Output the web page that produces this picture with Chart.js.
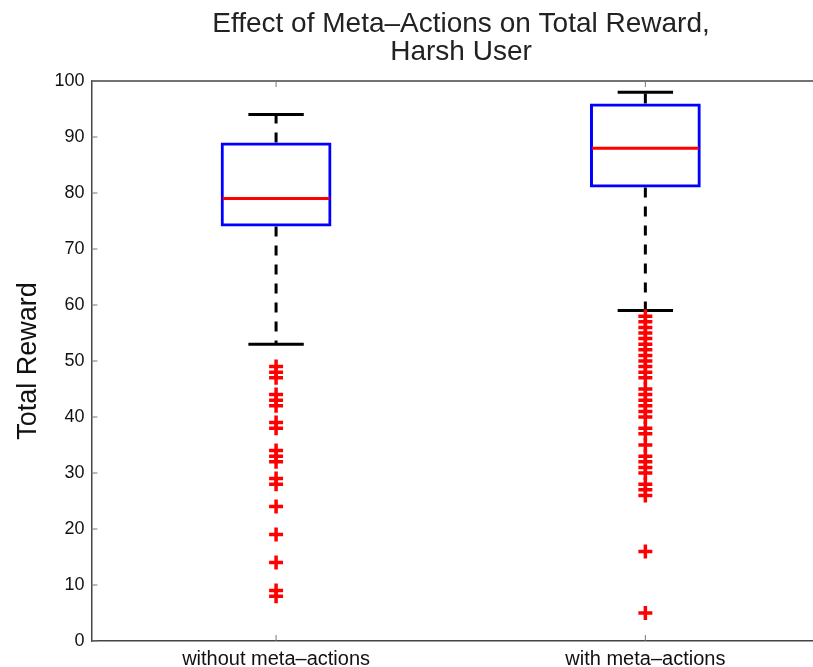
<!DOCTYPE html>
<html>
<head>
<meta charset="utf-8">
<script src="https://cdn.jsdelivr.net/npm/chart.js@4.4.1/dist/chart.umd.min.js"></script>
<style>
  html, body { margin: 0; padding: 0; background: #fff; overflow: hidden; }
  #wrap { width: 922px; height: 677px; }
</style>
</head>
<body>
<div id="wrap"><canvas id="boxChart"></canvas></div>
<script>
// Data
const categories = ['without meta\u2013actions', 'with meta\u2013actions'];
const q1 = [74, 81];
const medians = [79, 88];
const q3 = [89, 96];
const whiskerLow = [53, 59];
const whiskerHigh = [94, 98];
const outliersWithout = [49, 48, 47, 44, 43, 42, 39, 38, 34, 33, 32, 29, 28, 24, 19, 14, 9, 8];
const outliersWith = [58, 57, 56, 55, 54, 53, 52, 51, 50, 49, 48, 47, 45, 44, 43, 42, 41, 40,
                      38, 37, 35, 33, 32, 31, 30, 28, 27, 26, 16, 5];
const yTicks = [0, 10, 20, 30, 40, 50, 60, 70, 80, 90, 100];

const outlierPoints = []
    .concat(outliersWithout.map(v => ({ x: categories[0], y: v })))
    .concat(outliersWith.map(v => ({ x: categories[1], y: v })));

// whiskers, caps, medians, frame and inward ticks
const boxExtras = {
    id: 'boxExtras',
    beforeDatasetsDraw(chart) {
        const ctx = chart.ctx;
        const y = chart.scales.y;
        const meta = chart.getDatasetMeta(0);
        ctx.save();
        meta.data.forEach((bar, i) => {
            const cx = bar.x;
            const capHalf = bar.width / 4;
            // dashed whiskers
            ctx.strokeStyle = '#000';
            ctx.lineWidth = 3;
            ctx.setLineDash([10, 9]);
            ctx.beginPath();
            ctx.moveTo(cx, y.getPixelForValue(q3[i]));
            ctx.lineTo(cx, y.getPixelForValue(whiskerHigh[i]));
            ctx.moveTo(cx, y.getPixelForValue(q1[i]));
            ctx.lineTo(cx, y.getPixelForValue(whiskerLow[i]));
            ctx.stroke();
            // caps
            ctx.setLineDash([]);
            ctx.beginPath();
            ctx.moveTo(cx - capHalf, y.getPixelForValue(whiskerHigh[i]));
            ctx.lineTo(cx + capHalf, y.getPixelForValue(whiskerHigh[i]));
            ctx.moveTo(cx - capHalf, y.getPixelForValue(whiskerLow[i]));
            ctx.lineTo(cx + capHalf, y.getPixelForValue(whiskerLow[i]));
            ctx.stroke();
        });
        ctx.restore();
    },
    afterDatasetsDraw(chart) {
        const ctx = chart.ctx;
        const y = chart.scales.y;
        const x = chart.scales.x;
        const area = chart.chartArea;
        const meta = chart.getDatasetMeta(0);
        ctx.save();
        // medians
        meta.data.forEach((bar, i) => {
            const half = bar.width / 2 - 2;
            const my = y.getPixelForValue(medians[i]);
            ctx.strokeStyle = '#ff0000';
            ctx.lineWidth = 3;
            ctx.beginPath();
            ctx.moveTo(bar.x - half, my);
            ctx.lineTo(bar.x + half, my);
            ctx.stroke();
        });
        // top and right frame lines
        ctx.strokeStyle = '#444';
        ctx.lineWidth = 1.5;
        ctx.beginPath();
        ctx.moveTo(area.left, area.top);
        ctx.lineTo(area.right, area.top);
        ctx.lineTo(area.right, area.bottom);
        ctx.stroke();
        // inward ticks
        ctx.strokeStyle = '#777';
        ctx.lineWidth = 1;
        ctx.beginPath();
        yTicks.forEach(v => {
            const py = y.getPixelForValue(v);
            ctx.moveTo(area.left, py);
            ctx.lineTo(area.left + 6, py);
            ctx.moveTo(area.right, py);
            ctx.lineTo(area.right - 6, py);
        });
        categories.forEach((c, i) => {
            const px = x.getPixelForValue(i);
            ctx.moveTo(px, area.bottom);
            ctx.lineTo(px, area.bottom - 6);
            ctx.moveTo(px, area.top);
            ctx.lineTo(px, area.top + 6);
        });
        ctx.stroke();
        ctx.restore();
    }
};

const ctx = document.getElementById('boxChart').getContext('2d');
new Chart(ctx, {
    type: 'bar',
    data: {
        labels: categories,
        datasets: [{
            label: 'box',
            data: q1.map((v, i) => [v, q3[i]]),
            backgroundColor: 'rgba(0,0,0,0)',
            borderColor: '#0000ff',
            borderWidth: 3,
            borderSkipped: false,
            categoryPercentage: 1,
            barPercentage: 0.3
        }, {
            type: 'scatter',
            label: 'outliers',
            data: outlierPoints,
            pointStyle: 'cross',
            radius: 7,
            borderWidth: 3.5,
            borderColor: '#ff0000',
            backgroundColor: '#ff0000'
        }]
    },
    options: {
        responsive: true,
        maintainAspectRatio: false,
        animation: false,
        layout: { padding: 0 },
        plugins: {
            legend: { display: false },
            tooltip: { enabled: false },
            title: {
                display: true,
                text: ['Effect of Meta\u2013Actions on Total Reward,', 'Harsh User'],
                color: '#222',
                font: { family: 'Liberation Sans', size: 28, weight: 'normal', lineHeight: 1.0 },
                padding: { top: 10, bottom: 15 }
            }
        },
        scales: {
            x: {
                type: 'category',
                offset: true,
                grid: { display: false, drawTicks: false },
                border: { display: true, color: '#444', width: 1.5 },
                ticks: {
                    color: '#111',
                    padding: 6,
                    maxRotation: 0,
                    font: { family: 'Liberation Sans', size: 20 }
                }
            },
            y: {
                min: 0,
                max: 100,
                grid: { display: false, drawTicks: false },
                border: { display: true, color: '#444', width: 1.5 },
                ticks: {
                    stepSize: 10,
                    color: '#111',
                    padding: 7,
                    font: { family: 'Liberation Sans', size: 18 }
                },
                title: {
                    display: true,
                    text: 'Total Reward',
                    color: '#111',
                    font: { family: 'Liberation Sans', size: 27 },
                    padding: { top: 12, bottom: 3 }
                }
            },
            // empty right axis keeping the plot symmetric (the figure is cropped there)
            yRight: {
                position: 'right',
                min: 0,
                max: 100,
                grid: { display: false, drawTicks: false },
                border: { display: false },
                ticks: { display: false },
                afterFit(scale) { scale.width = 92; }
            }
        }
    },
    plugins: [boxExtras]
});
</script>
</body>
</html>
